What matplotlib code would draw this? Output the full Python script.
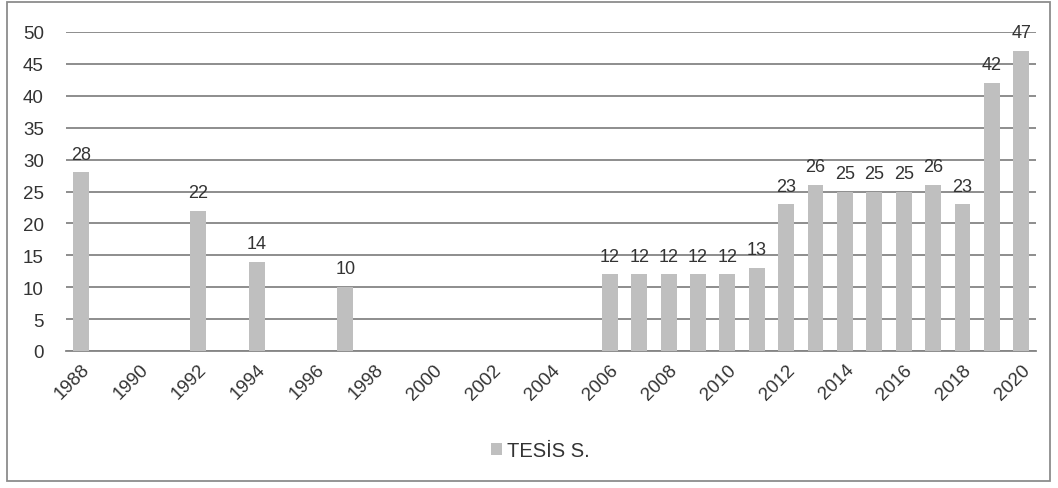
import matplotlib.pyplot as plt
from matplotlib.patches import Rectangle
import numpy as np

plt.rcParams['font.family'] = ['Liberation Sans', 'DejaVu Sans']

years = [1988, 1992, 1994, 1997, 2006, 2007, 2008, 2009, 2010, 2011, 2012,
         2013, 2014, 2015, 2016, 2017, 2018, 2019, 2020]
values = [28, 22, 14, 10, 12, 12, 12, 12, 12, 13, 23,
          26, 25, 25, 25, 26, 23, 42, 47]
tick_years = list(range(1988, 2021, 2))
series_name = 'TESİS S.'

fig = plt.figure(figsize=(10.58, 4.89), dpi=100)
ax = fig.add_axes([66/1058, 1-352/489, 970/1058, 319/489])

bars = ax.bar(years, values, width=0.54, color='#bfbfbf', label=series_name, zorder=3)
for x, v in zip(years, values):
    ax.annotate(str(v), (x, v), xytext=(0, 7), textcoords='offset points',
                ha='center', va='bottom', fontsize=13, color='#333333', zorder=4)

ax.set_xlim(1987.5, 2020.5)
ax.set_ylim(0, 50)
ax.set_yticks(np.arange(0, 51, 5))
ax.set_xticks(tick_years)
ax.set_xticklabels([str(y) for y in tick_years], rotation=45, ha='right',
                   rotation_mode='anchor')
ax.tick_params(axis='both', length=0, labelsize=13.5, colors='#333333')
ax.tick_params(axis='y', pad=16)
ax.tick_params(axis='x', pad=7)
ax.yaxis.grid(True, color='#858585', linewidth=1.3, zorder=0)
ax.set_axisbelow(True)
for s in ['top', 'right', 'left']:
    ax.spines[s].set_visible(False)
ax.spines['bottom'].set_color('#858585')
ax.spines['bottom'].set_linewidth(1.3)

fig.legend(handles=[bars], labels=[series_name], loc='center',
           bbox_to_anchor=(540/1058, 1-452/489), frameon=False, fontsize=14.5,
           handlelength=0.55, handleheight=0.55, handletextpad=0.25,
           labelcolor='#333333')

fig.patches.append(Rectangle((7/1058, 1-482/489), 1043/1058, 479/489,
                             transform=fig.transFigure, fill=False,
                             edgecolor='#8c8c8c', linewidth=1.3))

fig.savefig('out.png', dpi=100)
